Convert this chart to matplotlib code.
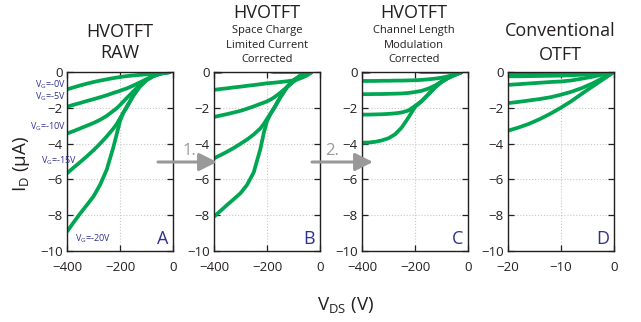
import matplotlib.pyplot as plt
from matplotlib.patches import FancyArrowPatch

plt.rcParams['font.family'] = ['Open Sans', 'DejaVu Sans']

# ---- veriler ----
# A: HVOTFT ham veri
VA = [-400, -375, -350, -325, -300, -275, -250, -225, -212, -200, -188, -175, -150, -125, -100, -75, -50, -25, -8]
A0 = [-0.97, -0.86, -0.75, -0.65, -0.56, -0.48, -0.41, -0.34, -0.31, -0.28, -0.255, -0.23, -0.19, -0.16, -0.13, -0.09, -0.05, -0.02, 0.0]
A5 = [-1.94, -1.83, -1.73, -1.62, -1.52, -1.41, -1.30, -1.17, -1.11, -1.05, -0.985, -0.92, -0.76, -0.58, -0.40, -0.23, -0.11, -0.03, 0.0]
A10 = [-3.44, -3.30, -3.15, -3.00, -2.85, -2.67, -2.45, -2.17, -2.02, -1.85, -1.66, -1.46, -1.09, -0.72, -0.44, -0.24, -0.10, -0.03, 0.0]
A15 = [-5.66, -5.34, -5.03, -4.71, -4.37, -4.00, -3.60, -3.16, -2.90, -2.59, -2.28, -1.96, -1.32, -0.80, -0.45, -0.22, -0.09, -0.03, 0.0]
A20 = [-8.92, -8.40, -7.90, -7.43, -6.95, -6.30, -5.45, -4.20, -3.45, -2.75, -2.30, -1.98, -1.33, -0.81, -0.46, -0.23, -0.09, -0.03, 0.0]

# B: SCLC duzeltilmis
VB = [-400, -375, -350, -325, -300, -275, -250, -225, -212, -200, -188, -175, -150, -125, -100, -75, -50, -30]
B0 = [0.0, 0.0, 0.15, 0.15, 0.15, 0.15, 0.15, 0.15, 0.12, 0.08, 0.04, 0.0, 0.0, 0.0, 0.0, 0.0, 0.0, 0.0]
B5 = [-1.00, -0.95, -0.91, -0.86, -0.82, -0.77, -0.73, -0.68, -0.655, -0.63, -0.615, -0.60, -0.56, -0.52, -0.47, -0.36, -0.20, 0.0]
B10 = [-2.51, -2.43, -2.35, -2.26, -2.17, -2.05, -1.92, -1.78, -1.71, -1.64, -1.55, -1.44, -1.16, -0.85, -0.54, -0.29, -0.10, 0.0]
B15 = [-4.82, -4.64, -4.45, -4.24, -4.01, -3.77, -3.49, -3.15, -2.90, -2.62, -2.35, -2.05, -1.41, -0.84, -0.46, -0.20, -0.06, 0.0]
B20 = [-8.08, -7.75, -7.42, -7.10, -6.77, -6.30, -5.60, -4.30, -3.40, -2.75, -2.38, -2.07, -1.43, -0.86, -0.47, -0.21, -0.06, 0.0]

# C: kanal boyu modulasyonu duzeltilmis
VC = [-400, -375, -350, -325, -300, -275, -250, -225, -200, -175, -150, -125, -100, -75, -50, -22]
C0 = [0.0, 0.0, 0.15, 0.15, 0.15, 0.15, 0.15, 0.15, 0.08, 0.0, 0.0, 0.0, 0.0, 0.0, 0.0, 0.0]
C5 = [-0.50, -0.50, -0.50, -0.49, -0.49, -0.48, -0.48, -0.47, -0.46, -0.44, -0.41, -0.37, -0.32, -0.24, -0.15, 0.0]
C10 = [-1.24, -1.24, -1.23, -1.23, -1.22, -1.21, -1.20, -1.17, -1.12, -1.05, -0.93, -0.76, -0.53, -0.32, -0.16, 0.0]
C15 = [-2.38, -2.38, -2.37, -2.36, -2.34, -2.31, -2.26, -2.15, -1.90, -1.62, -1.25, -0.86, -0.55, -0.33, -0.16, 0.0]
C20 = [-3.95, -3.94, -3.90, -3.82, -3.70, -3.48, -3.10, -2.55, -1.95, -1.64, -1.26, -0.87, -0.56, -0.34, -0.17, 0.0]

# D: konvansiyonel OTFT
VD = [-20, -18, -16, -14, -12, -10, -8, -6, -4, -2, 0]
D0 = [-0.06, -0.06, -0.06, -0.06, -0.05, -0.05, -0.05, -0.04, -0.03, -0.02, 0.0]
D5 = [-0.24, -0.24, -0.23, -0.22, -0.21, -0.20, -0.18, -0.15, -0.11, -0.06, 0.0]
D10 = [-0.72, -0.68, -0.64, -0.60, -0.56, -0.53, -0.47, -0.37, -0.26, -0.13, 0.0]
D15 = [-1.74, -1.67, -1.59, -1.51, -1.41, -1.27, -1.10, -0.89, -0.63, -0.32, 0.0]
D20 = [-3.28, -3.10, -2.89, -2.63, -2.33, -1.99, -1.62, -1.20, -0.80, -0.40, 0.0]

vg_etiket = ['-0V', '-5V', '-10V', '-15V', '-20V']
harfler = ['A', 'B', 'C', 'D']

yesil = '#00a651'
mavi = '#2e3192'
gri = '#999999'
siyah = '#231f20'

W, H = 641, 322
fig = plt.figure(figsize=(6.41, 3.22), dpi=100)


def px(x, y):
    return x / W, 1 - y / H


def panel(sol, V, egriler, xlim, xticks, harf):
    ax = fig.add_axes([sol / W, (H - 251) / H, 106 / W, 179 / H])
    for I in egriler:
        ax.plot(V, I, color=yesil, lw=2.7, solid_capstyle='butt', solid_joinstyle='round')
    ax.set_xlim(xlim)
    ax.set_ylim(-10, 0)
    ax.set_xticks(xticks)
    ax.set_yticks([0, -2, -4, -6, -8, -10])
    ax.grid(True, ls=':', color='#c8c8c8', lw=0.8)
    ax.tick_params(direction='in', top=True, right=True, length=4, width=0.9,
                   labelsize=9.5, colors=siyah)
    ax.tick_params(axis='x', pad=7)
    ax.tick_params(axis='y', pad=3)
    for s in ax.spines.values():
        s.set_linewidth(1.0)
        s.set_color(siyah)
    ax.text(0.955, 0.015, harf, transform=ax.transAxes, ha='right', va='bottom',
            color=mavi, fontsize=13)
    return ax


axA = panel(67, VA, [A0, A5, A10, A15, A20], (-400, 0), [-400, -200, 0], harfler[0])
axB = panel(214, VB, [B0, B5, B10, B15, B20], (-400, 0), [-400, -200, 0], harfler[1])
axC = panel(362, VC, [C0, C5, C10, C15, C20], (-400, 0), [-400, -200, 0], harfler[2])
axD = panel(508, VD, [D0, D5, D10, D15, D20], (-20, 0), [-20, -10, 0], harfler[3])

# basliklar
baslik = dict(ha='center', va='center', color=siyah, fontsize=13)
alt = dict(ha='center', va='center', color=siyah, fontsize=8)
fig.text(*px(120, 32), 'HVOTFT', **baslik)
fig.text(*px(120, 53), 'RAW', **baslik)
fig.text(*px(267, 13), 'HVOTFT', **baslik)
fig.text(*px(267, 30), 'Space Charge', **alt)
fig.text(*px(267, 45), 'Limited Current', **alt)
fig.text(*px(267, 60), 'Corrected', **alt)
fig.text(*px(414, 13), 'HVOTFT', **baslik)
fig.text(*px(414, 30), 'Channel Length', **alt)
fig.text(*px(414, 45), 'Modulation', **alt)
fig.text(*px(414, 60), 'Corrected', **alt)
fig.text(*px(560, 31), 'Conventional', **baslik)
fig.text(*px(560, 55), 'OTFT', **baslik)

# VG etiketleri (panel A)
vg_yer = [(66, 85, 'right'), (66, 96.5, 'right'), (66, 127, 'right'), (41, 161, 'left'), (75, 239, 'left')]
for (x, y, h), e in zip(vg_yer, vg_etiket):
    fig.text(*px(x, y), r'V$_\mathregular{G}$=' + e, ha=h, va='center', color=mavi, fontsize=6.5)

# eksen etiketleri
fig.text(*px(21, 164), r'I$_\mathregular{D}$ (μA)', rotation=90, ha='center', va='center',
         fontsize=13.5, color=siyah)
fig.text(*px(346, 306), r'V$_\mathregular{DS}$ (V)', ha='center', va='center',
         fontsize=13.5, color=siyah)

# oklar
ok = dict(arrowstyle='-|>,head_length=0.9,head_width=0.45', color=gri, lw=2.2,
          shrinkA=0, shrinkB=0, mutation_scale=12, zorder=10)
fig.add_artist(FancyArrowPatch(px(158, 162), px(217, 162), transform=fig.transFigure, **ok))
fig.add_artist(FancyArrowPatch(px(312, 162), px(373, 162), transform=fig.transFigure, **ok))
fig.text(*px(189, 151), '1.', ha='center', va='center', color=gri, fontsize=12)
fig.text(*px(332, 151), '2.', ha='center', va='center', color=gri, fontsize=12)

fig.savefig('out.png', dpi=100)
